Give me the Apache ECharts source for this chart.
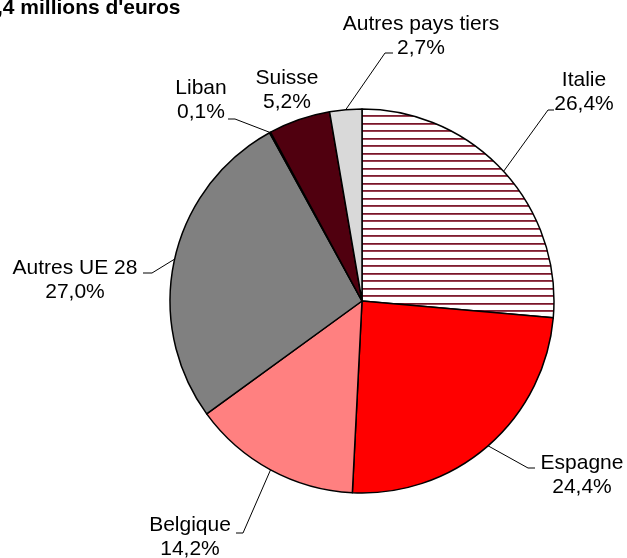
<!DOCTYPE html>
<html>
<head>
<meta charset="utf-8">
<script src="https://cdn.jsdelivr.net/npm/echarts@6/dist/echarts.min.js"></script>
<style>
  html, body { margin: 0; padding: 0; background: #fff; }
  #chart { width: 627px; height: 558px; }
</style>
</head>
<body>
<div id="chart"></div>
<script>
// parts of the total, in %
var categories = ['Italie', 'Espagne', 'Belgique', 'Autres UE 28', 'Liban', 'Suisse', 'Autres pays tiers'];
var shares = [26.4, 24.4, 14.2, 27.0, 0.1, 5.2, 2.7];

// styles
var sliceColors = [null, '#FF0000', '#FF8080', '#808080', '#3a0010', '#50000F', '#D9D9D9'];
var labelCenters = [[584, 92], [582, 475], [190, 537], [75, 280], [201, 100], [287, 90], [421, 36]];
// leader line: bend point then end of the short horizontal stub (null = no line)
var leaderBends = [[548, 110], [528, 468], [243, 533], [152, 273], [235, 119], null, [385, 53]];
var leaderEnds = [[554, 110], [535, 468], [236, 533], [143, 273], [228, 119], null, [393, 53]];
var fontFamily = '"Liberation Sans", Arial, sans-serif';

// stripes for Italie
function stripePattern() {
    var c = document.createElement('canvas');
    c.width = 16;
    c.height = 15;
    var ctx = c.getContext('2d');
    ctx.fillStyle = '#ffffff';
    ctx.fillRect(0, 0, 16, 15);
    ctx.fillStyle = '#761628';
    ctx.fillRect(0, 3, 16, 1);
    ctx.fillStyle = '#a04a5c';
    ctx.fillRect(0, 4, 16, 1);
    ctx.fillStyle = '#7e1e32';
    ctx.fillRect(0, 10, 16, 1);
    ctx.fillStyle = '#98404f';
    ctx.fillRect(0, 11, 16, 1);
    return c;
}

var chart = echarts.init(document.getElementById('chart'));

var pieData = categories.map(function (name, i) {
    var item = {
        name: name,
        value: shares[i],
        itemStyle: {
            color: i === 0 ? { image: stripePattern(), repeat: 'repeat' } : sliceColors[i]
        }
    };
    if (!leaderBends[i]) {
        item.labelLine = { show: false };
    }
    return item;
});

var option = {
    backgroundColor: '#ffffff',
    animation: false,
    title: {
        text: ",4 millions d'euros",
        left: -3,
        top: -2,
        padding: 0,
        textStyle: {
            fontSize: 21,
            fontWeight: 'bold',
            color: '#000',
            fontFamily: fontFamily
        }
    },
    series: [
        {
            type: 'pie',
            center: [362, 301],
            radius: 192,
            startAngle: 90,
            clockwise: true,
            avoidLabelOverlap: false,
            data: pieData,
            itemStyle: {
                borderColor: '#000',
                borderWidth: 1.5
            },
            label: {
                show: true,
                position: 'outside',
                color: '#000',
                fontSize: 21,
                lineHeight: 24,
                fontFamily: fontFamily,
                align: 'center',
                formatter: function (p) {
                    return p.name + '\n' + p.value.toFixed(1).replace('.', ',') + '%';
                }
            },
            labelLine: {
                show: true,
                length: 20,
                length2: 7,
                lineStyle: { color: '#000', width: 1 }
            },
            labelLayout: function (params) {
                var i = params.dataIndex;
                var p = labelCenters[i];
                var out = { x: p[0], y: p[1], align: 'center', verticalAlign: 'middle' };
                if (leaderBends[i] && params.labelLinePoints) {
                    out.labelLinePoints = [params.labelLinePoints[0], leaderBends[i], leaderEnds[i]];
                }
                return out;
            },
            emphasis: { disabled: true }
        }
    ]
};

chart.setOption(option);
</script>
</body>
</html>
